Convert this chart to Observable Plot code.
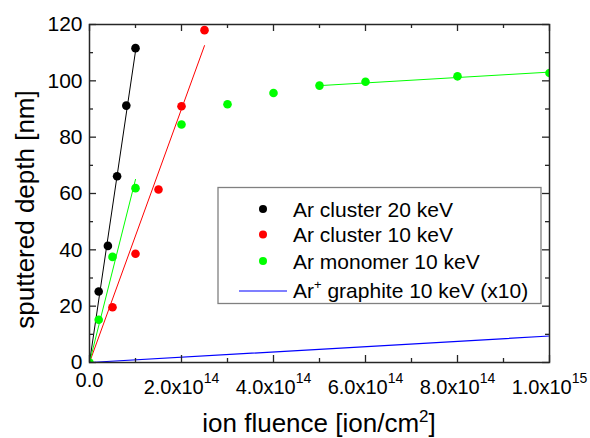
<!DOCTYPE html>
<html>
<head>
<meta charset="utf-8">
<script src="https://cdn.jsdelivr.net/npm/d3@7"></script>
<script src="https://cdn.jsdelivr.net/npm/@observablehq/plot@0.6"></script>
<style>
  html, body { margin: 0; padding: 0; background: #fff; }
  #chart { width: 590px; height: 438px; }
</style>
</head>
<body>
<div id="chart"></div>
<script>
// ---- data ----
const blackX = [2e13, 4e13, 6e13, 8e13, 1e14];
const blackY = [25.2, 41.4, 66.1, 91.2, 111.6];
const redX = [5e13, 1e14, 1.5e14, 2e14, 2.5e14];
const redY = [19.6, 38.6, 61.4, 91.0, 118.0];
const greenX = [0, 2e13, 5e13, 1e14, 2e14, 3e14, 4e14, 5e14, 6e14, 8e14, 1e15];
const greenY = [0, 15.2, 37.5, 61.9, 84.5, 91.7, 95.7, 98.3, 99.7, 101.6, 102.8];

const blackFitX = [0, 1e14];      const blackFitY = [0, 110.5];
const redFitX = [0, 2.5e14];      const redFitY = [0, 112.5];
const greenFit1X = [0, 1e14];     const greenFit1Y = [0, 65];
const greenFit2X = [5e14, 1e15];  const greenFit2Y = [98.3, 103.1];
const blueX = [0, 1e15];          const blueY = [0, 9.4];

const xMajor = [0, 2e14, 4e14, 6e14, 8e14, 1e15];
const xMinor = [1e14, 3e14, 5e14, 7e14, 9e14];
const xTickLabels = ["0.0", "2.0x10^14", "4.0x10^14", "6.0x10^14", "8.0x10^14", "1.0x10^15"];
const yMajor = [0, 20, 40, 60, 80, 100, 120];
const yMinor = [10, 30, 50, 70, 90, 110];
const yTickLabels = ["0", "20", "40", "60", "80", "100", "120"];

const legendLabels = ["Ar cluster 20 keV", "Ar cluster 10 keV", "Ar monomer 10 keV", "Ar^+ graphite 10 keV (x10)"];
const legendColors = ["#000000", "#ff0000", "#00ff00", "#0000ff"];
const legendKinds = ["dot", "dot", "dot", "line"];

const xTitle = "ion fluence [ion/cm^2]";
const yTitle = "sputtered depth [nm]";

// ---- layout ----
const W = 590, H = 438;
const mT = 24, mR = 41, mB = 76, mL = 89;
const xDom = [0, 1e15], yDom = [0, 120];
const pxX = (xDom[1] - xDom[0]) / (W - mL - mR);
const pxY = (yDom[1] - yDom[0]) / (H - mT - mB);
const majLen = 7, minLen = 4;
const FONT = "Arial, 'Liberation Sans', sans-serif";
const frameColor = "#262626";

const idx = a => d3.range(a.length);

function ticksX(vals, len) {
  return [
    Plot.ruleX(vals, {x: d => d, y1: yDom[0], y2: yDom[0] + len * pxY, stroke: frameColor, strokeWidth: 1.3}),
    Plot.ruleX(vals, {x: d => d, y1: yDom[1] - len * pxY, y2: yDom[1], stroke: frameColor, strokeWidth: 1.3})
  ];
}
function ticksY(vals, len) {
  return [
    Plot.ruleY(vals, {y: d => d, x1: xDom[0], x2: xDom[0] + len * pxX, stroke: frameColor, strokeWidth: 1.3}),
    Plot.ruleY(vals, {y: d => d, x1: xDom[1] - len * pxX, x2: xDom[1], stroke: frameColor, strokeWidth: 1.3})
  ];
}

const plot = Plot.plot({
  width: W, height: H,
  marginTop: mT, marginRight: mR, marginBottom: mB, marginLeft: mL,
  x: {domain: xDom, axis: null},
  y: {domain: yDom, axis: null},
  style: {fontFamily: FONT, background: "#fff", overflow: "visible"},
  marks: [
    Plot.line(idx(blueX), {x: blueX, y: blueY, stroke: "#0000ff", strokeWidth: 1.2}),
    Plot.line(idx(blackFitX), {x: blackFitX, y: blackFitY, stroke: "#000", strokeWidth: 1}),
    Plot.line(idx(redFitX), {x: redFitX, y: redFitY, stroke: "#ff0000", strokeWidth: 1}),
    Plot.line(idx(greenFit1X), {x: greenFit1X, y: greenFit1Y, stroke: "#00ff00", strokeWidth: 1}),
    Plot.line(idx(greenFit2X), {x: greenFit2X, y: greenFit2Y, stroke: "#00ff00", strokeWidth: 1}),
    Plot.dot(idx(blackX), {x: blackX, y: blackY, r: 4.3, fill: "#000", clip: true}),
    Plot.dot(idx(redX), {x: redX, y: redY, r: 4.3, fill: "#ff0000", clip: true}),
    Plot.dot(idx(greenX), {x: greenX, y: greenY, r: 4.3, fill: "#00ff00", clip: true}),
    ...ticksX(xMajor, majLen), ...ticksX(xMinor, minLen),
    ...ticksY(yMajor, majLen), ...ticksY(yMinor, minLen),
    Plot.frame({stroke: frameColor, strokeWidth: 1.5}),
    Plot.text(yMajor, {x: xDom[0], y: d => d, text: (d, i) => yTickLabels[i], textAnchor: "end", dx: -7, fontSize: 21, fill: "#000"}),
    Plot.text(xMajor.filter((d, i) => !xTickLabels[i].includes("^")), {x: d => d, y: yDom[0], text: d => xTickLabels[xMajor.indexOf(d)], lineAnchor: "bottom", dy: 24, fontSize: 20, fill: "#000"}),
    Plot.text(xMajor.filter((d, i) => xTickLabels[i].includes("^")), {x: d => d, y: yDom[0], text: d => xTickLabels[xMajor.indexOf(d)], lineAnchor: "bottom", dy: 31, fontSize: 20, fill: "#000", className: "xexp"})
  ]
});

document.getElementById("chart").appendChild(plot);
const svg = d3.select(plot);

// superscripts for exponent tick labels
svg.selectAll(".xexp text").each(function() {
  const s = this.textContent;
  const [base, sup] = s.split("^");
  const t = d3.select(this);
  t.text(null);
  t.append("tspan").text(base);
  t.append("tspan").attr("dy", -11).attr("font-size", 14).text(sup);
});

function richText(sel, s, supSize, supDy, baseSize) {
  const parts = s.split(/\^(.)/);
  sel.append("tspan").text(parts[0]);
  if (parts.length > 1) {
    sel.append("tspan").attr("dy", supDy).attr("font-size", supSize).text(parts[1]);
    if (parts[2]) sel.append("tspan").attr("dy", -supDy).attr("font-size", baseSize).text(parts[2]);
  }
}

// axis titles
const xt = svg.append("text")
  .attr("x", mL + (W - mL - mR) / 2).attr("y", 432)
  .attr("text-anchor", "middle").attr("font-size", 26).attr("font-family", FONT).attr("fill", "#000");
richText(xt, xTitle, 17, -10, 26);

svg.append("text")
  .attr("transform", "translate(34,209.5) rotate(-90)")
  .attr("text-anchor", "middle").attr("font-size", 26).attr("font-family", FONT).attr("fill", "#000")
  .text(yTitle);

// legend
const lg = svg.append("g").attr("font-family", FONT).attr("text-anchor", "start");
lg.append("rect").attr("x", 218).attr("y", 187.5).attr("width", 323).attr("height", 116)
  .attr("fill", "#fff").attr("stroke", "#808080").attr("stroke-width", 1.3);
const rowBase = [216.5, 242, 268.5, 298];
legendLabels.forEach((lab, i) => {
  const cy = rowBase[i] - 7.5;
  if (legendKinds[i] === "dot") {
    lg.append("circle").attr("cx", 263).attr("cy", cy).attr("r", 4).attr("fill", legendColors[i]);
  } else {
    lg.append("line").attr("x1", 239).attr("x2", 287).attr("y1", 291).attr("y2", 291)
      .attr("stroke", legendColors[i]).attr("stroke-width", 1.2);
  }
  const t = lg.append("text").attr("x", 293).attr("y", rowBase[i]).attr("font-size", 21)
    .attr("fill", "#000").attr("text-anchor", "start");
  richText(t, lab, 13, -9, 21);
});
</script>
</body>
</html>
